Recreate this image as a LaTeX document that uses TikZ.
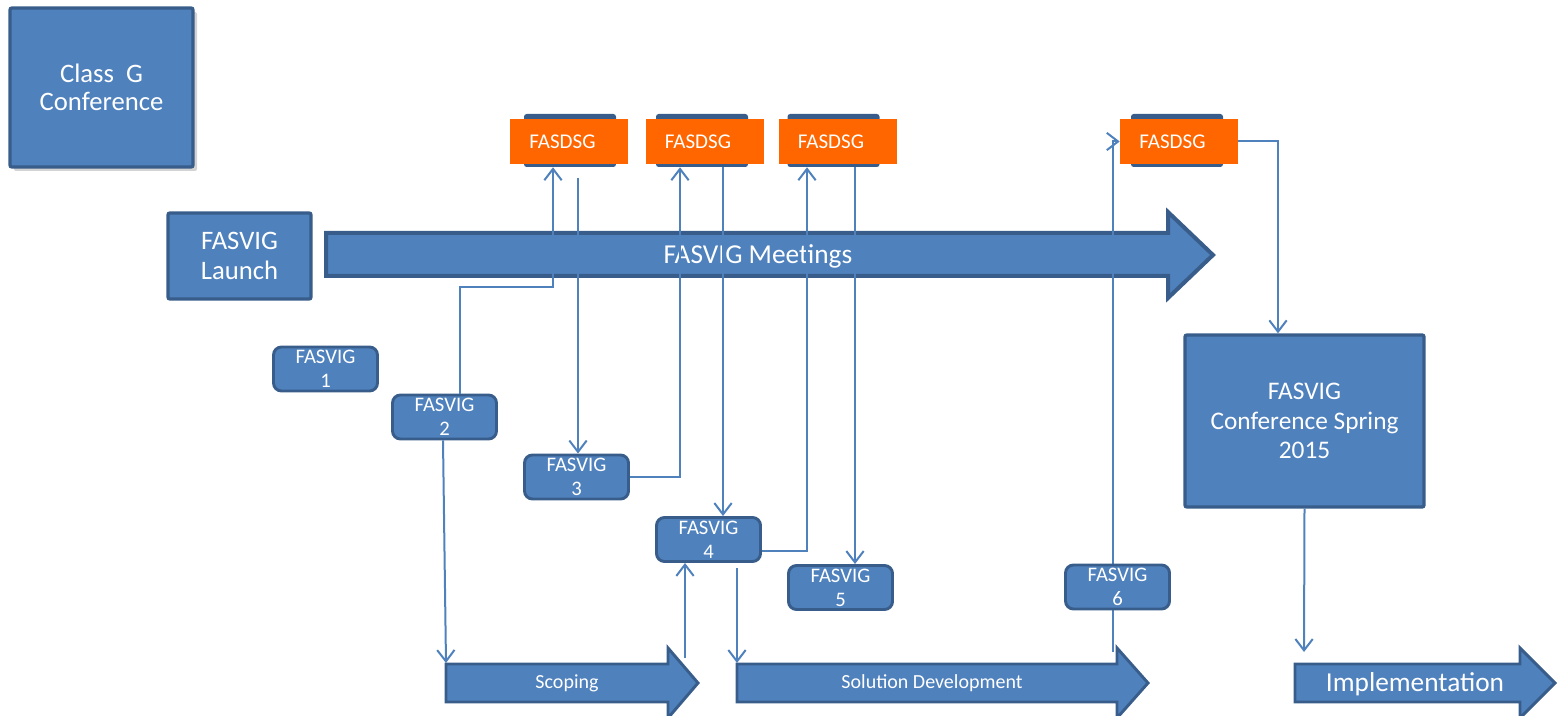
\documentclass[tikz,border=0pt]{standalone}
\usepackage{fontspec}
\setmainfont{Carlito}
\usetikzlibrary{positioning, arrows.meta, calc, shadows}
\definecolor{cB}{HTML}{4F81BD}
\definecolor{cD}{HTML}{385D8A}
\definecolor{cO}{HTML}{FF6600}

\begin{document}
\begin{tikzpicture}[x=0.75pt, y=-0.75pt, >={Straight Barb[length=8.5pt,width=13pt]},
    every node/.style={text=white, align=center, inner sep=0pt},
    bigbox/.style={rectangle, rounded corners=1.5pt, fill=cB, draw=cD, line width=2.5pt, font=\fontsize{20}{21}\selectfont},
    vig/.style={rectangle, rounded corners=6pt, fill=cB, draw=cD, line width=2.2pt, minimum width=78pt, minimum height=33pt, font=\fontsize{15.5}{18}\selectfont},
    dsgback/.style={rectangle, rounded corners=2pt, fill=cD, minimum width=69pt, minimum height=39.75pt},
    dsg/.style={rectangle, fill=cO, minimum width=88.5pt, minimum height=33.75pt, font=\fontsize{15.75}{18}\selectfont, execute at end node=\hspace{9.75pt}},
    phase/.style={fill=cB, draw=cD, line width=2.2pt, line join=miter},
    link/.style={->, draw=cB, line width=1.5pt}]
    \useasboundingbox (0,0) rectangle (1560,716);

    % Phases
    \draw[phase, line width=3pt] (326,233) -- (1168,233) -- (1168,212) -- (1213,255) -- (1168,298) -- (1168,276) -- (326,276) -- cycle;
    \node[font=\fontsize{20.5}{22}\selectfont] (meet) at (758,256) {FASVIG Meetings};
    \draw[phase] (446,664) -- (668,664) -- (668,648) -- (698,683) -- (668,718) -- (668,702) -- (446,702) -- cycle;
    \node[font=\fontsize{15}{18}\selectfont] (scope) at (567,683) {Scoping};
    \draw[phase] (737,664) -- (1117,664) -- (1117,648) -- (1148,683) -- (1117,718) -- (1117,702) -- (737,702) -- cycle;
    \node[font=\fontsize{15}{18}\selectfont] (sol) at (932,683) {Solution Development};
    \draw[phase] (1295,664) -- (1520,664) -- (1520,648) -- (1555,683) -- (1520,718) -- (1520,702) -- (1295,702) -- cycle;
    \node[font=\fontsize{20.5}{22}\selectfont] (impl) at (1415,684) {Implementation};
    \coordinate (scopetop) at (446,663);
    \coordinate (scopehead) at (685,658);
    \coordinate (soltop) at (737,663);
    \coordinate (solhead) at (1113,652);
    \coordinate (impltop) at (1304,652);

    % Boxes
    \node[bigbox, minimum width=137.25pt, minimum height=119.25pt, drop shadow={shadow xshift=3pt, shadow yshift=-3pt, opacity=0.35}] (classg) at (101.5,87.5) {Class~~G\\Conference};
    \node[bigbox, minimum width=107.25pt, minimum height=64.5pt, font=\fontsize{20}{22.5}\selectfont] (launch) at (239.5,256) {FASVIG\\Launch};
    \node[bigbox, minimum width=179.25pt, minimum height=129pt, font=\fontsize{19}{22}\selectfont] (conf) at (1304.5,421) {FASVIG\\Conference Spring\\2015};

    \node[dsgback] (b1) at (570,140.5) {};
    \node[dsg] (d1) at (569,141.5) {FASDSG};
    \node[dsgback] (b2) at (702,140.5) {};
    \node[dsg] (d2) at (704.5,141.5) {FASDSG};
    \node[dsgback] (b3) at (833.5,140.5) {};
    \node[dsg] (d3) at (837.5,141.5) {FASDSG};
    \node[dsgback] (b4) at (1177,140.5) {};
    \node[dsg] (d4) at (1179,141.5) {FASDSG};

    \node[vig] (v1) at (325.5,369) {FASVIG\\1};
    \node[vig] (v2) at (444.5,417) {FASVIG\\2};
    \node[vig] (v3) at (576.5,477) {FASVIG\\3};
    \node[vig] (v4) at (708.5,539.5) {FASVIG\\4};
    \node[vig] (v5) at (840.5,587.5) {FASVIG\\5};

    % Links
    \draw[link] (solhead) |- (d4.west);
    \node[vig] (v6) at (1117.5,587) {FASVIG\\6};

    \draw[link] ($(v2.north)+(15,0)$) |- ($(b1.south)+(-17,120)$) -- ($(b1.south)+(-17,0)$);
    \draw[link, shorten <=8pt] ($(b1.south)+(8,0)$) -- ($(v3.north)+(1.5,0)$);
    \draw[link] (v3.east) -| ($(b2.south)+(-22,0)$);
    \draw[link] ($(b2.south)+(21,0)$) -- ($(v4.north)+(14.5,0)$);
    \draw[link] ($(v4.east)+(0,11.5)$) -| ($(b3.south)+(-26.5,0)$);
    \draw[link] ($(b3.south)+(21.5,0)$) -- ($(v5.north)+(14.5,0)$);
    \draw[link] (d4.east) -| ($(conf.north)+(-26.5,0)$);
    \draw[link] (conf.south) -- (impltop);
    \draw[link] ($(v2.south)+(-1.5,0)$) -- (scopetop);
    \draw[link] (scopehead) -- ($(v4.south)+(-23.5,0)$);
    \draw[link, shorten <=4pt] ($(v4.south)+(28.5,0)$) -- (soltop);
\end{tikzpicture}
\end{document}
